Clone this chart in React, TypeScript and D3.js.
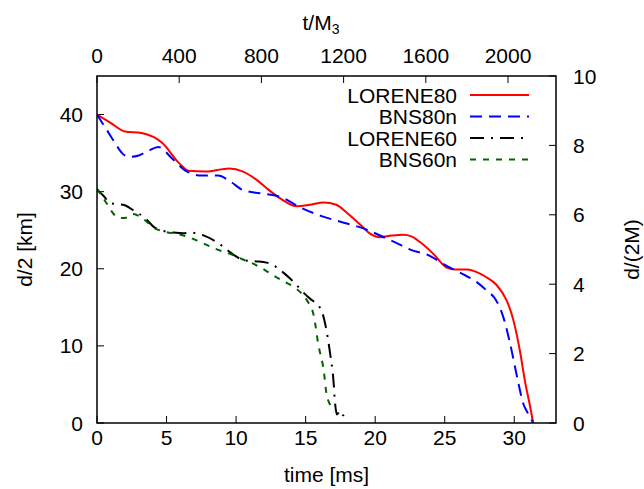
import React from "react";
import * as d3 from "d3";

const xTicks = [0, 5, 10, 15, 20, 25, 30];
const yTicks = [0, 10, 20, 30, 40];
const x2Ticks = [0, 400, 800, 1200, 1600, 2000];
const y2Ticks = [0, 2, 4, 6, 8, 10];

const lorene80T = [0, 1.0, 2.0, 3.2, 4.7, 5.9, 6.6, 7.8, 9.5, 10.5, 11.5, 12.3, 13.2, 14.4, 15.3, 16.3, 17.2, 18.0, 19.0, 19.6, 20.35, 21.2, 22.0, 22.6, 23.2, 24.2, 25.1, 25.8, 26.6, 27.5, 28.0, 28.73, 29.45, 29.8, 30.05, 30.4, 30.8, 31.1, 31.36];
const lorene80D = [40, 38.9, 37.8, 37.6, 36.3, 33.7, 32.7, 32.6, 33.0, 32.6, 31.5, 30.3, 29.1, 28.1, 28.3, 28.6, 28.3, 27.2, 25.6, 24.6, 24.1, 24.3, 24.4, 24.2, 23.5, 21.9, 20.2, 19.9, 19.9, 19.4, 18.9, 17.9, 15.9, 14.2, 12.5, 9.4, 5.1, 2.5, 0];

const bns80T = [0, 0.6, 1.3, 1.8, 2.3, 3.0, 3.7, 4.4, 5.4, 6.3, 7.5, 8.7, 9.6, 10.5, 11.7, 13.2, 14.8, 16.2, 17.5, 19.2, 21.1, 23.0, 23.5, 25.2, 26.2, 27.2, 28.0, 28.7, 29.2, 29.7, 30.2, 30.65, 31.0, 31.37];
const bns80D = [40, 38.3, 36.3, 35.0, 34.5, 34.7, 35.3, 35.8, 34.3, 32.8, 32.1, 32.1, 31.3, 30.2, 29.8, 29.3, 27.8, 26.8, 26.1, 25.2, 23.7, 22.2, 22.0, 20.3, 19.4, 18.4, 17.2, 15.9, 13.8, 10.3, 6.0, 2.5, 1.2, 0];

const lorene60T = [0, 0.5, 0.96, 1.4, 1.9, 2.6, 3.5, 4.1, 4.8, 5.5, 6.2, 6.7, 7.7, 8.9, 9.6, 10.3, 11.0, 11.5, 12.2, 12.9, 13.4, 13.9, 14.4, 14.8, 15.4, 15.9, 16.2, 16.4, 16.76, 17.0, 17.1, 17.25, 17.5, 17.7, 17.95];
const lorene60D = [30.3, 29.4, 28.5, 28.4, 28.3, 27.6, 26.5, 25.4, 24.9, 24.7, 24.6, 24.7, 24.3, 23.1, 22.1, 21.3, 21.0, 20.95, 20.8, 20.2, 19.5, 18.7, 17.8, 17.0, 16.0, 15.3, 14.3, 12.9, 9.0, 5.5, 2.9, 1.1, 1.6, 1.0, 1.3];

const bns60T = [0, 0.4, 0.8, 1.2, 1.6, 2.0, 2.6, 3.3, 4.1, 4.9, 5.8, 6.6, 7.4, 8.5, 9.6, 10.5, 11.3, 12.1, 12.9, 13.5, 14.1, 14.6, 15.1, 15.6, 15.9, 16.3, 16.5, 16.9, 17.0];
const bns60D = [30.4, 29.3, 28.2, 27.1, 26.6, 26.6, 27.1, 26.5, 25.3, 24.8, 24.5, 24.1, 23.5, 22.6, 21.9, 21.2, 20.6, 19.8, 18.9, 18.3, 17.7, 17.0, 15.9, 13.8, 10.3, 6.8, 3.8, 1.9, 1.5];

const seriesNames = ["LORENE80", "BNS80n", "LORENE60", "BNS60n"];
const seriesColors = ["#ff0000", "#0000ff", "#000000", "#006400"];
const seriesDash = ["none", "12,7", "14,7,2,7", "6,7"];

const W = 644;
const H = 489;
const left = 97;
const right = 556;
const top = 76;
const bottom = 423;
const FONT = "'Liberation Sans', Arial, Helvetica, sans-serif";
const FS = 21;
const TICK = 7;

export default function App() {
  const x = d3.scaleLinear().domain([0, 33]).range([left, right]);
  const y = d3.scaleLinear().domain([0, 45]).range([bottom, top]);
  const x2 = d3.scaleLinear().domain([0, 33 / (3 * 0.004925)]).range([left, right]);
  const y2 = d3.scaleLinear().domain([0, 10]).range([bottom, top]);

  const seriesT = [lorene80T, bns80T, lorene60T, bns60T];
  const seriesD = [lorene80D, bns80D, lorene60D, bns60D];

  const line = d3
    .line<[number, number]>()
    .x((p) => x(p[0]))
    .y((p) => y(p[1]))
    .curve(d3.curveMonotoneX);

  const legendY = [95, 116.5, 138, 159.5];

  return (
    <svg
      width={W}
      height={H}
      style={{ position: "absolute", left: 0, top: 0, background: "#fff" }}
      fontFamily={FONT}
      fontSize={FS}
    >
      <defs>
        <clipPath id="plotclip">
          <rect x={left} y={top} width={right - left} height={bottom - top} />
        </clipPath>
      </defs>
      <rect x={0} y={0} width={W} height={H} fill="#fff" />

      {/* ticks */}
      {xTicks.map((t) => (
        <g key={"xt" + t}>
          <line x1={x(t)} x2={x(t)} y1={bottom} y2={bottom - TICK} stroke="#000" strokeWidth={1} />
          <text x={x(t)} y={445} textAnchor="middle">{t}</text>
        </g>
      ))}
      {x2Ticks.map((t) => (
        <g key={"x2t" + t}>
          <line x1={x2(t)} x2={x2(t)} y1={top} y2={top + TICK} stroke="#000" strokeWidth={1} />
          <text x={x2(t)} y={63} textAnchor="middle">{t}</text>
        </g>
      ))}
      {yTicks.map((t) => (
        <g key={"yt" + t}>
          <line x1={left} x2={left + TICK} y1={y(t)} y2={y(t)} stroke="#000" strokeWidth={1} />
          <text x={83} y={y(t) + 7.5} textAnchor="end">{t}</text>
        </g>
      ))}
      {y2Ticks.map((t) => (
        <g key={"y2t" + t}>
          <line x1={right} x2={right - TICK} y1={y2(t)} y2={y2(t)} stroke="#000" strokeWidth={1} />
          <text x={573} y={y2(t) + 7.5} textAnchor="start">{t}</text>
        </g>
      ))}

      {/* series */}
      <g clipPath="url(#plotclip)">
        {seriesT.map((ts, i) => (
          <path
            key={seriesNames[i]}
            d={line(ts.map((t, j) => [t, seriesD[i][j]] as [number, number])) || ""}
            fill="none"
            stroke={seriesColors[i]}
            strokeWidth={2}
            strokeDasharray={seriesDash[i]}
          />
        ))}
      </g>

      {/* frame */}
      <rect x={left} y={top} width={right - left} height={bottom - top} fill="none" stroke="#000" strokeWidth={1.5} />

      {/* legend */}
      {seriesNames.map((n, i) => (
        <g key={"lg" + n}>
          <text x={457} y={legendY[i] + 7.5} textAnchor="end">{n}</text>
          <line
            x1={470}
            x2={529}
            y1={legendY[i]}
            y2={legendY[i]}
            stroke={seriesColors[i]}
            strokeWidth={2}
            strokeDasharray={seriesDash[i]}
          />
        </g>
      ))}

      {/* axis labels */}
      <text x={(left + right) / 2} y={482} textAnchor="middle">time [ms]</text>
      <text x={321} y={29.5} textAnchor="middle">
        t/M<tspan fontSize={14} dy={4}>3</tspan>
      </text>
      <text transform={`translate(32,${(top + bottom) / 2}) rotate(-90)`} textAnchor="middle">d/2 [km]</text>
      <text transform={`translate(639,${(top + bottom) / 2}) rotate(-90)`} textAnchor="middle">d/(2M)</text>
    </svg>
  );
}
